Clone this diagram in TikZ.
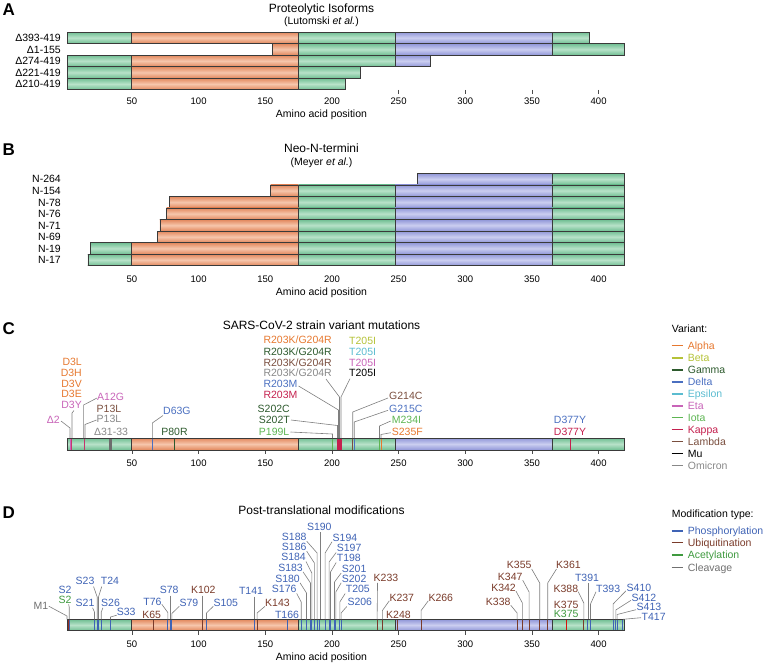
\documentclass[tikz,border=0pt]{standalone}
\usepackage{fontspec}
\setmainfont{Liberation Sans}
\usetikzlibrary{calc}
\definecolor{gd}{HTML}{6FBE92}
\definecolor{gl}{HTML}{B8E2C9}
\definecolor{od}{HTML}{E2875C}
\definecolor{ol}{HTML}{F6C6AC}
\definecolor{bd}{HTML}{9096D8}
\definecolor{bl}{HTML}{CBCEF0}
\definecolor{outlc}{HTML}{3A3A3A}
\definecolor{leadgray}{HTML}{7F7F7F}
\definecolor{alpha}{HTML}{E6782F}
\definecolor{beta}{HTML}{B5C238}
\definecolor{gamma}{HTML}{2D5A2D}
\definecolor{delta}{HTML}{4A6FC0}
\definecolor{epsilon}{HTML}{5BBCD0}
\definecolor{eta}{HTML}{C864B8}
\definecolor{iota}{HTML}{5DB552}
\definecolor{kappa}{HTML}{C4204E}
\definecolor{lambda}{HTML}{7A4E3E}
\definecolor{mu}{HTML}{000000}
\definecolor{omicron}{HTML}{888888}
\definecolor{phos}{HTML}{3F63B5}
\definecolor{ubiq}{HTML}{7A3B2A}
\definecolor{acet}{HTML}{3F9A3F}
\definecolor{cleav}{HTML}{707070}
\newcommand\px[1]{65.3+1.3333*(#1)}
\newcommand\segbar[5]{%
  \shade[top color=#5d,bottom color=#5d,middle color=#5l] ({\px{#1}},#3) rectangle ({\px{#2}},#4);
  \draw[outl] ({\px{#1}},#3) rectangle ({\px{#2}},#4);}
\newcommand\rowbar[4]{%
  \begin{scope}
  \clip ({\px{#1}},#3) rectangle ({\px{#2}},#4);
  \segbar{1.5}{49.5}{#3}{#4}{g}\segbar{49.5}{175}{#3}{#4}{o}\segbar{175}{247.3}{#3}{#4}{g}\segbar{247.3}{365}{#3}{#4}{b}\segbar{365}{419}{#3}{#4}{g}
  \end{scope}
  \draw[outl] ({\px{#1}},#3) rectangle ({\px{#2}},#4);}
\tikzset{
  lbl/.style={inner sep=0pt,font=\fontsize{10.5}{12}\selectfont,text height=7.6pt,text depth=0pt},
  ticklbl/.style={inner sep=0pt,font=\fontsize{9.5}{11}\selectfont,text height=6.8pt,text depth=0pt},
  ttl/.style={inner sep=0pt,font=\fontsize{12}{14}\selectfont,text height=8.6pt,text depth=0pt},
  subttl/.style={inner sep=0pt,font=\fontsize{10.5}{12}\selectfont,text height=7.6pt,text depth=0pt},
  letter/.style={inner sep=0pt,font=\fontsize{17}{20}\selectfont\bfseries,text height=12.2pt,text depth=0pt},
  lead/.style={draw=leadgray,line width=0.6pt},
  mk/.style={line width=1pt},
  outl/.style={draw=outlc,line width=0.6pt},
  tk/.style={draw=black!70,line width=0.6pt},
  legl/.style={line width=1.2pt},
}
\begin{document}
\begin{tikzpicture}[x=1pt,y=-1pt]
\useasboundingbox (0,0) rectangle (766,664);
% ================= Panel A
\node[letter,anchor=west] (LA) at (2.5,9.5) {A};
\node[ttl] (tA) at (321.5,8) {Proteolytic Isoforms};
\node[subttl] (sA) at (321.5,20.5) {(Lutomski \textit{et al.})};
\foreach \t in {250,300,350,400} \draw[tk] ({\px{\t}},89.75) -- ({\px{\t}},93.5);
\rowbar{1.5}{393}{32}{43.55}
\rowbar{155.5}{419}{43.55}{55.1}
\rowbar{1.5}{274}{55.1}{66.65}
\rowbar{1.5}{221}{66.65}{78.2}
\rowbar{1.5}{210}{78.2}{89.75}
\node[lbl,anchor=east] (rA1) at (61,37.8) {Δ393-419};
\node[lbl,anchor=east] (rA2) at (61,49.3) {Δ1-155};
\node[lbl,anchor=east] (rA3) at (61,60.9) {Δ274-419};
\node[lbl,anchor=east] (rA4) at (61,72.4) {Δ221-419};
\node[lbl,anchor=east] (rA5) at (61,84.0) {Δ210-419};
\foreach \t in {50,100,...,400} \node[ticklbl] (nA\t) at ({\px{\t}},101) {\t};
\node[lbl] (xA) at (321.5,114) {Amino acid position};
% ================= Panel B
\node[letter,anchor=west] (LB) at (2.5,149.7) {B};
\node[ttl] (tB) at (321.5,148.3) {Neo-N-termini};
\node[subttl] (sB) at (321.5,161.5) {(Meyer \textit{et al.})};
\rowbar{264}{419}{173.3}{184.85}
\rowbar{154}{419}{184.85}{196.4}
\rowbar{78}{419}{196.4}{207.95}
\rowbar{76}{419}{207.95}{219.5}
\rowbar{71}{419}{219.5}{231.05}
\rowbar{69}{419}{231.05}{242.6}
\rowbar{19}{419}{242.6}{254.15}
\rowbar{17}{419}{254.15}{265.7}
\node[lbl,anchor=east] (rB1) at (61,179.1) {N-264};
\node[lbl,anchor=east] (rB2) at (61,190.6) {N-154};
\node[lbl,anchor=east] (rB3) at (61,202.2) {N-78};
\node[lbl,anchor=east] (rB4) at (61,213.7) {N-76};
\node[lbl,anchor=east] (rB5) at (61,225.3) {N-71};
\node[lbl,anchor=east] (rB6) at (61,236.8) {N-69};
\node[lbl,anchor=east] (rB7) at (61,248.4) {N-19};
\node[lbl,anchor=east] (rB8) at (61,259.9) {N-17};
\foreach \t in {50,100,...,400} \node[ticklbl] (nB\t) at ({\px{\t}},279) {\t};
\node[lbl] (xB) at (321.5,291.5) {Amino acid position};
% ================= Panel C
\node[letter,anchor=west] (LC) at (2.5,328) {C};
\node[ttl] (tC) at (321.5,325) {SARS-CoV-2 strain variant mutations};
\foreach \t in {50,100,...,400} {\draw[tk] ({\px{\t}},450) -- ({\px{\t}},453.5); \node[ticklbl] (nC\t) at ({\px{\t}},463) {\t};}
\rowbar{1.5}{419}{438}{450}
\draw[mk,eta] (70,438) -- (70,450);
\draw[mk,kappa!70!eta] (71.8,438) -- (71.8,450);
\draw[mk,kappa!70!eta] (84.5,438) -- (84.5,450);
\fill[omicron!80!black] (109.3,438) rectangle (112,450);
\draw[mk,delta] (152.3,438) -- (152.3,450);
\draw[mk,gamma] (174.7,438) -- (174.7,450);
\draw[mk,iota] (332.5,438) -- (332.5,450);
\fill[kappa] (336.5,438) rectangle (341.5,450);
\draw[mk,lambda] (352.7,438) -- (352.7,450);
\draw[mk,delta] (354.2,438) -- (354.2,450);
\draw[mk,iota] (379.5,438) -- (379.5,450);
\draw[mk,alpha] (381,438) -- (381,450);
\draw[mk,kappa] (570,438) -- (570,450);
\draw[outl] ({\px{1.5}},438) rectangle ({\px{419}},450);
% labels C
\node[lbl,anchor=east,text=alpha] (cD3L) at (82,362) {D3L};
\node[lbl,anchor=east,text=alpha] (cD3H) at (82,373) {D3H};
\node[lbl,anchor=east,text=alpha] (cD3V) at (82,383.5) {D3V};
\node[lbl,anchor=east,text=alpha] (cD3E) at (82,394) {D3E};
\node[lbl,anchor=east,text=eta] (cD3Y) at (82,405) {D3Y};
\node[lbl,anchor=east,text=eta] (cDel2) at (60,420) {Δ2};
\node[lbl,anchor=west,text=eta] (cA12G) at (97,397) {A12G};
\node[lbl,anchor=west,text=lambda] (cP13La) at (96.5,408.5) {P13L};
\node[lbl,anchor=west,text=omicron] (cP13Lb) at (96.5,419) {P13L};
\node[lbl,text=omicron] (cDel31) at (111,432) {Δ31-33};
\node[lbl,anchor=west,text=delta] (cD63G) at (163,410.5) {D63G};
\node[lbl,text=gamma] (cP80R) at (174.5,432) {P80R};
\node[lbl,anchor=west,text=alpha] (cR1) at (263.3,340) {R203K/G204R};
\node[lbl,anchor=west,text=gamma] (cR2) at (263.3,351.5) {R203K/G204R};
\node[lbl,anchor=west,text=lambda] (cR3) at (263.3,362.3) {R203K/G204R};
\node[lbl,anchor=west,text=omicron] (cR4) at (263.3,373) {R203K/G204R};
\node[lbl,anchor=west,text=delta] (cR203Ma) at (263.3,384) {R203M};
\node[lbl,anchor=west,text=kappa] (cR203Mb) at (263.3,395) {R203M};
\node[lbl,anchor=east,text=gamma] (cS202C) at (290,409) {S202C};
\node[lbl,anchor=east,text=gamma] (cS202T) at (290,419.5) {S202T};
\node[lbl,anchor=east,text=iota] (cP199L) at (289.5,432) {P199L};
\node[lbl,anchor=west,text=beta] (cT1) at (349,341) {T205I};
\node[lbl,anchor=west,text=epsilon] (cT2) at (349,351.7) {T205I};
\node[lbl,anchor=west,text=eta] (cT3) at (349,362.3) {T205I};
\node[lbl,anchor=west,text=mu] (cT4) at (349,372.7) {T205I};
\node[lbl,anchor=west,text=lambda] (cG214C) at (389,396) {G214C};
\node[lbl,anchor=west,text=delta] (cG215C) at (389,408.3) {G215C};
\node[lbl,anchor=west,text=iota] (cM234I) at (391.7,420) {M234I};
\node[lbl,anchor=west,text=alpha] (cS235F) at (391.7,431.7) {S235F};
\node[lbl,text=delta] (cD377a) at (570,420) {D377Y};
\node[lbl,text=kappa] (cD377b) at (570,431.7) {D377Y};
% leaders C
\draw[lead] ($(cDel2.east)+(1,1)$) -- (70,428) -- (70,438);
\draw[lead] ($(cD3Y.south east)+(-8,1.5)$) -- (72,413) -- (72,438);
\draw[lead] ($(cA12G.west)+(0,1)$) -- (83.6,405) -- (83.6,438);
\draw[lead] ($(cP13Lb.west)+(0,1)$) -- (85,424.5) -- (85,438);
\draw[lead] ($(cD63G.south west)+(0,1)$) -- (152.3,423) -- (152.3,438);
\draw[lead] ($(cP199L.east)+(1,0)$) -- (332.5,434) -- (332.5,438);
\draw[lead] ($(cS202T.east)+(1,0.5)$) -- (337.5,425.5) -- (337.5,438);
\draw[lead] ($(cR203Ma.east)+(1,2)$) -- (338.5,410) -- (338.5,438);
\draw[lead] ($(cR4.south east)+(-6,2)$) -- (339.5,397) -- (339.5,438);
\draw[lead] ($(cT4.south west)+(1,2)$) -- (341,397) -- (341,438);
\draw[lead] ($(cG214C.west)+(-1,2)$) -- (352.7,412) -- (352.7,438);
\draw[lead] ($(cG215C.west)+(-1,2)$) -- (354.2,422) -- (354.2,438);
\draw[lead] ($(cM234I.west)+(-1,1)$) -- (379.5,426) -- (379.5,438);
\draw[lead] ($(cS235F.west)+(-1,1)$) -- (381,434.5) -- (381,438);
% legend C
\node[lbl,anchor=west] (lgC) at (671.7,328.3) {Variant:};
\foreach \nm/\cl/\yy in {Alpha/alpha/345.7,Beta/beta/358,Gamma/gamma/370,Delta/delta/382,Epsilon/epsilon/394,Eta/eta/406,Iota/iota/417.7,Kappa/kappa/429.5,Lambda/lambda/441.7,Mu/mu/453.7,Omicron/omicron/465.7} {
  \node[lbl,anchor=west,text=\cl] (lg\nm) at (687.7,\yy) {\nm};
  \draw[legl,\cl] ($(lg\nm.west)+(-16,0)$) -- ($(lg\nm.west)+(-4.4,0)$);
}
% ================= Panel D
\node[letter,anchor=west] (LD) at (2.5,512) {D};
\node[ttl] (tD) at (321.5,510) {Post-translational modifications};
\foreach \t in {50,100,...,400} {\draw[tk] ({\px{\t}},630.7) -- ({\px{\t}},634.5); \node[ticklbl] (nD\t) at ({\px{\t}},644) {\t};}
\node[lbl] (xD) at (321.5,657) {Amino acid position};
\rowbar{1.5}{419}{619.3}{630.7}
\fill[ubiq!80!red] (66.6,619.3) rectangle (68.6,630.7);
\foreach \x in {69.2,94.5,97.2,98.5,101.2,110.5,167.8,170.5,171.8,206.5,254.5,287.7,301.2,306.5,310.5,311.8,314.4,317.1,319.8,325.1,329.1,330.5,334.5,335.8,339.8,341.1,587.8,590.5,613.1,615.8,617.1,622.4} \draw[mk,phos] (\x,619.3) -- (\x,630.7);
\foreach \x in {153,202.5,257.1,377.1,382.4,397.1,421.1,517.1,522.4,529.1,539.7,547.7,583.8} \draw[mk,ubiq] (\x,619.3) -- (\x,630.7);
\draw[mk,red!70!ubiq] (566.4,619.3) -- (566.4,630.7);
\draw[outl] ({\px{1.5}},619.3) rectangle ({\px{419}},630.7);
% labels D
\node[lbl,anchor=east,text=cleav] (dM1) at (48.3,605.7) {M1};
\node[lbl,text=phos] (dS2a) at (65,590) {S2};
\node[lbl,text=acet] (dS2b) at (65,599.3) {S2};
\node[lbl,text=phos] (dS23) at (85,581) {S23};
\node[lbl,text=phos] (dT24) at (110,581) {T24};
\node[lbl,text=phos] (dS21) at (85,602.3) {S21};
\node[lbl,text=phos] (dS26) at (110.5,602.3) {S26};
\node[lbl,anchor=west,text=phos] (dS33) at (116.7,611.7) {S33};
\node[lbl,text=ubiq] (dK65) at (151.7,614.3) {K65};
\node[lbl,text=phos] (dT76) at (152.5,601.7) {T76};
\node[lbl,text=phos] (dS78) at (169.2,590) {S78};
\node[lbl,anchor=west,text=phos] (dS79) at (179.3,602.3) {S79};
\node[lbl,text=ubiq] (dK102) at (203.3,590) {K102};
\node[lbl,anchor=west,text=phos] (dS105) at (213.3,602.3) {S105};
\node[lbl,text=phos] (dT141) at (251,591) {T141};
\node[lbl,anchor=west,text=ubiq] (dK143) at (265,602.3) {K143};
\node[lbl,text=phos] (dT166) at (287,614.3) {T166};
\node[lbl,anchor=east,text=phos] (dS176) at (296.7,589) {S176};
\node[lbl,anchor=east,text=phos] (dS180) at (300,578.3) {S180};
\node[lbl,anchor=east,text=phos] (dS183) at (303,567.3) {S183};
\node[lbl,anchor=east,text=phos] (dS184) at (306,557) {S184};
\node[lbl,anchor=east,text=phos] (dS186) at (306.7,546.7) {S186};
\node[lbl,anchor=east,text=phos] (dS188) at (306.7,536.7) {S188};
\node[lbl,text=phos] (dS190) at (319.3,526.5) {S190};
\node[lbl,anchor=west,text=phos] (dS194) at (332.5,537.3) {S194};
\node[lbl,anchor=west,text=phos] (dS197) at (336.7,548) {S197};
\node[lbl,anchor=west,text=phos] (dT198) at (336.7,558) {T198};
\node[lbl,anchor=west,text=phos] (dS201) at (341.7,568.5) {S201};
\node[lbl,anchor=west,text=phos] (dS202) at (341.7,578.3) {S202};
\node[lbl,anchor=west,text=phos] (dT205) at (345.7,589) {T205};
\node[lbl,anchor=west,text=phos] (dS206) at (347.3,602) {S206};
\node[lbl,text=ubiq] (dK233) at (386,577.3) {K233};
\node[lbl,anchor=west,text=ubiq] (dK237) at (389.3,597.3) {K237};
\node[lbl,text=ubiq] (dK248) at (398.5,614.3) {K248};
\node[lbl,anchor=west,text=ubiq] (dK266) at (428.3,597.3) {K266};
\node[lbl,anchor=east,text=ubiq] (dK338) at (510.7,601.7) {K338};
\node[lbl,anchor=east,text=ubiq] (dK342) at (516,587.7) {K342};
\node[lbl,anchor=east,text=ubiq] (dK347) at (522.7,576.7) {K347};
\node[lbl,anchor=east,text=ubiq] (dK355) at (531.7,565) {K355};
\node[lbl,anchor=west,text=ubiq] (dK361) at (556,565) {K361};
\node[lbl,anchor=east,text=ubiq] (dK388) at (578.3,588.3) {K388};
\node[lbl,text=ubiq] (dK375a) at (566.2,605) {K375};
\node[lbl,text=acet] (dK375b) at (566.2,614) {K375};
\node[lbl,text=phos] (dT391) at (587,577.7) {T391};
\node[lbl,anchor=west,text=phos] (dT393) at (596,588.3) {T393};
\node[lbl,anchor=west,text=phos] (dS410) at (626.5,587.3) {S410};
\node[lbl,anchor=west,text=phos] (dS412) at (631.5,597.3) {S412};
\node[lbl,anchor=west,text=phos] (dS413) at (636.5,606.7) {S413};
\node[lbl,anchor=west,text=phos] (dT417) at (641.5,616.7) {T417};
% leaders D
\draw[lead] ($(dM1.east)+(0.5,0.5)$) -- (67,616) -- (67,619.3);
\draw[lead] ($(dS2b.south east)+(-3,1)$) -- (69.2,607) -- (69.2,619.3);
\draw[lead] ($(dS23.south east)+(-1,1.5)$) -- (97.2,597) -- (97.2,619.3);
\draw[lead] ($(dT24.south west)+(1,1.5)$) -- (98.5,597) -- (98.5,619.3);
\draw[lead] ($(dS21.south east)+(-2,1.5)$) -- (94.5,612) -- (94.5,619.3);
\draw[lead] ($(dS26.south west)+(2,1.5)$) -- (101.2,612) -- (101.2,619.3);
\draw[lead] ($(dS33.west)+(0,3.5)$) -- (110.5,617) -- (110.5,619.3);
\draw[lead] ($(dT76.east)+(0,2.5)$) -- (167.8,612.5) -- (167.8,619.3);
\draw[lead] ($(dS78.south)+(1.3,1.5)$) -- (170.5,619.3);
\draw[lead] ($(dS79.west)+(0,4)$) -- (171.8,613.5) -- (171.8,619.3);
\draw[lead] ($(dK102.south)+(-0.8,1.5)$) -- (202.5,619.3);
\draw[lead] ($(dS105.west)+(0,4)$) -- (206.5,613) -- (206.5,619.3);
\draw[lead] ($(dT141.south)+(3.5,1.5)$) -- (254.5,619.3);
\draw[lead] ($(dK143.west)+(0,4)$) -- (257.1,613) -- (257.1,619.3);
\draw[lead] ($(dS176.south east)+(0,0.5)$) -- (301.2,602) -- (301.2,619.3);
\draw[lead] ($(dS180.south east)+(0,0.5)$) -- (306.5,593) -- (306.5,619.3);
\draw[lead] ($(dS183.south east)+(0,0.5)$) -- (310.5,583) -- (310.5,619.3);
\draw[lead] ($(dS184.south east)+(0,0.5)$) -- (311.8,573) -- (311.8,619.3);
\draw[lead] ($(dS186.south east)+(0,0.5)$) -- (314.4,563) -- (314.4,619.3);
\draw[lead] ($(dS188.south east)+(0,0.5)$) -- (317.1,553) -- (317.1,619.3);
\draw[lead] ($(dS190.south)+(0.5,1.5)$) -- (319.8,619.3);
\draw[lead] ($(dS194.south west)+(-0.5,0.5)$) -- (325.1,553) -- (325.1,619.3);
\draw[lead] ($(dS197.south west)+(-0.5,0.5)$) -- (329.1,562) -- (329.1,619.3);
\draw[lead] ($(dT198.south west)+(-0.5,0.5)$) -- (330.5,572) -- (330.5,619.3);
\draw[lead] ($(dS201.south west)+(-0.5,0.5)$) -- (334.5,582) -- (334.5,619.3);
\draw[lead] ($(dS202.south west)+(-0.5,0.5)$) -- (335.8,592) -- (335.8,619.3);
\draw[lead] ($(dT205.south west)+(-0.5,0.5)$) -- (339.8,602) -- (339.8,619.3);
\draw[lead] ($(dS206.south west)+(-0.5,0.5)$) -- (341.1,613) -- (341.1,619.3);
\draw[lead] ($(dK233.south west)+(4,1.5)$) -- (377.1,619.3);
\draw[lead] ($(dK237.west)+(0,3.5)$) -- (382.4,610.5) -- (382.4,619.3);
\draw[lead] ($(dK266.west)+(0,3.5)$) -- (421.1,610.5) -- (421.1,619.3);
\draw[lead] ($(dK338.east)+(0,3.5)$) -- (517.1,613) -- (517.1,619.3);
\draw[lead] ($(dK342.east)+(0,3.5)$) -- (522.4,603) -- (522.4,619.3);
\draw[lead] ($(dK347.east)+(0,3.5)$) -- (529.1,592) -- (529.1,619.3);
\draw[lead] ($(dK355.east)+(0,4)$) -- (539.7,583) -- (539.7,619.3);
\draw[lead] ($(dK361.west)+(0.5,4)$) -- (547.7,583) -- (547.7,619.3);
\draw[lead] ($(dK388.east)+(0,3.5)$) -- (583.8,603) -- (583.8,619.3);
\draw[lead] ($(dT391.south)+(0.8,1.5)$) -- (587.8,619.3);
\draw[lead] ($(dT393.west)+(0,3.5)$) -- (590.5,604) -- (590.5,619.3);
\draw[lead] ($(dS410.west)+(-0.5,3.5)$) -- (613.1,604) -- (613.1,619.3);
\draw[lead] ($(dS412.west)+(-0.5,3)$) -- (615.8,610) -- (615.8,619.3);
\draw[lead] ($(dS413.west)+(-0.5,3)$) -- (617.1,614.5) -- (617.1,619.3);
\draw[lead] ($(dT417.west)+(-0.5,1)$) -- (623,619.3);
% legend D
\node[lbl,anchor=west] (lgD) at (671.7,514) {Modification type:};
\foreach \nm/\cl/\yy in {Phosphorylation/phos/531,Ubiquitination/ubiq/542.7,Acetylation/acet/555,Cleavage/cleav/567.3} {
  \node[lbl,anchor=west,text=\cl] (lg\nm) at (687.7,\yy) {\nm};
  \draw[legl,\cl] ($(lg\nm.west)+(-16,0)$) -- ($(lg\nm.west)+(-4.4,0)$);
}
\end{tikzpicture}
\end{document}
